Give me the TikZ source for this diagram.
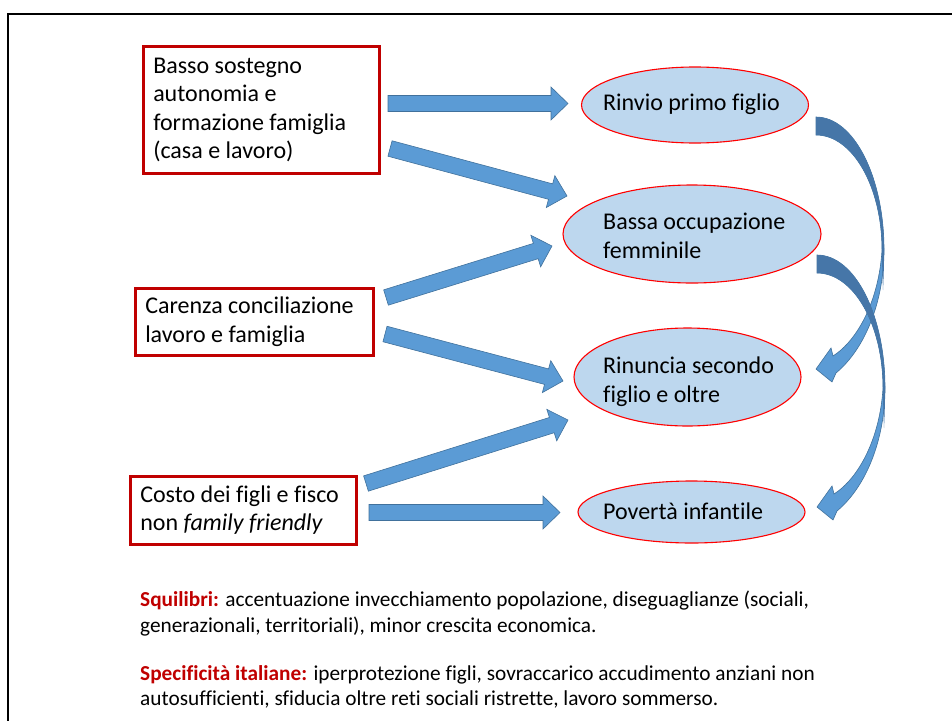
\documentclass[tikz,border=0pt]{standalone}
\usepackage{fontspec}
\setmainfont{Carlito}[Ligatures=NoCommon]
\usetikzlibrary{calc,shapes.geometric}
\definecolor{boxred}{HTML}{C00000}
\definecolor{ellfill}{HTML}{BDD7EE}
\definecolor{ellline}{HTML}{FF0000}
\definecolor{arrfill}{HTML}{5B9BD5}
\definecolor{arrline}{HTML}{41719C}
\definecolor{arrdark}{HTML}{4676A8}
\newcommand\mainfs{\fontsize{24}{28.5}\selectfont}
\newcommand\smallfs{\fontsize{21.3}{26}\selectfont}
\newcommand\blockarrow[2]{%
  \path[barrow] let \p1=(#1), \p2=(#2),
     \n1={atan2(\y2-\y1,\x2-\x1)},
     \n2={veclen(\x2-\x1,\y2-\y1)-17}
   in ($(\p1)+(\n1+90:8pt)$)
   -- ($(\p1)+(\n1:\n2)+(\n1+90:8pt)$)
   -- ($(\p1)+(\n1:\n2)+(\n1+90:16.5pt)$)
   -- (\p2)
   -- ($(\p1)+(\n1:\n2)+(\n1-90:16.5pt)$)
   -- ($(\p1)+(\n1:\n2)+(\n1-90:8pt)$)
   -- ($(\p1)+(\n1-90:8pt)$) -- cycle;}
\newcommand\curvedarr{%
  \path[curvelight] (816,117) .. controls (853.6,117) and (884,176.5) .. (884,250)
     .. controls (884,300) and (866,348) .. (836,373) -- (832,382) -- (816,369) -- (831,348) -- (833,356)
     .. controls (858,340) and (879,300) .. (882,250)
     .. controls (882,186.5) and (852.5,135) .. (816,135) -- cycle;
  \path[curvedark] (816,117) .. controls (853.6,117) and (884,176.5) .. (884,250)
     .. controls (884,266) and (883.6,278) .. (883,290)
     .. controls (882.4,275) and (882,262) .. (882,250)
     .. controls (882,186.5) and (852.5,135) .. (816,135) -- cycle;}
\begin{document}
\begin{tikzpicture}[x=1pt,y=-1pt,
  redbox/.style={draw=boxred, line width=2.5pt, fill=white, rectangle, anchor=north west,
     align=flush left, inner xsep=10pt, inner ysep=0pt, font=\mainfs},
  ell/.style={ellipse, draw=ellline, line width=1.1pt, fill=ellfill, inner sep=0pt},
  elltext/.style={anchor=base west, inner sep=0pt, font=\mainfs},
  bottomtext/.style={anchor=base west, inner sep=0pt, font=\smallfs},
  barrow/.style={fill=arrfill, draw=arrline, line width=0.6pt, line join=miter},
  curvelight/.style={fill=arrfill, draw=arrline, line width=0.6pt},
  curvedark/.style={fill=arrdark},
  frameline/.style={draw=black, line width=2.5pt}]
\useasboundingbox (0,0) rectangle (952,720);
\draw[frameline] (8,722) -- (8,14) -- (954,14);

% source boxes
\node[redbox, minimum width=236pt, minimum height=127pt, text width=216pt] (b1) at (142,45)
  {Basso sostegno\\autonomia e\\formazione famiglia\\(casa e lavoro)};
\node[redbox, minimum width=238pt, minimum height=67pt, text width=218pt] (b2) at (134,287)
  {Carenza conciliazione\\lavoro e famiglia};
\node[redbox, minimum width=226pt, minimum height=68pt, text width=206pt] (b3) at (129,475)
  {Costo dei figli e fisco\\non \textit{family friendly}};

% effect ellipses
\node[ell, minimum width=227pt, minimum height=76pt] (e1) at (695,105) {};
\node[ell, minimum width=258pt, minimum height=98pt] (e2) at (692,234) {};
\node[ell, minimum width=227pt, minimum height=98pt] (e3) at (687.5,377) {};
\node[ell, minimum width=227pt, minimum height=62pt] (e4) at (691.5,512) {};
\node[elltext] (e1a) at (603,110) {Rinvio primo figlio};
\node[elltext] (e2a) at (603,229) {Bassa occupazione};
\node[elltext] (e2b) at (603,258) {femminile};
\node[elltext] (e3a) at (603,373) {Rinuncia secondo};
\node[elltext] (e3b) at (603,402) {figlio e oltre};
\node[elltext] (e4a) at (603,519) {Povertà infantile};

% arrow end points
\coordinate (a1s) at (388,103.5); \coordinate (a1e) at (568,103.5);
\coordinate (a2s) at (390,148.5); \coordinate (a2e) at (567,196);
\coordinate (a3s) at (386,297.5); \coordinate (a3e) at (552,246);
\coordinate (a4s) at (385,334);   \coordinate (a4e) at (563,381);
\coordinate (a5s) at (366,483.5); \coordinate (a5e) at (568,420);
\coordinate (a6s) at (369,512.5); \coordinate (a6e) at (560,512.5);
\blockarrow{a1s}{a1e}
\blockarrow{a2s}{a2e}
\blockarrow{a3s}{a3e}
\blockarrow{a4s}{a4e}
\blockarrow{a5s}{a5e}
\blockarrow{a6s}{a6e}

% curved arrows
\curvedarr
\begin{scope}[shift={(1,138)}]
\curvedarr
\end{scope}

% bottom notes
\node[bottomtext] (n1) at (140,606) {\textbf{\color{boxred}Squilibri:} accentuazione invecchiamento popolazione, diseguaglianze (sociali,};
\node[bottomtext] (n2) at (140,632) {generazionali, territoriali), minor crescita economica.};
\node[bottomtext] (n3) at (140,680) {\textbf{\color{boxred}Specificità italiane:} iperprotezione figli, sovraccarico accudimento anziani non};
\node[bottomtext] (n4) at (140,705) {autosufficienti, sfiducia oltre reti sociali ristrette, lavoro sommerso.};
\end{tikzpicture}
\end{document}
